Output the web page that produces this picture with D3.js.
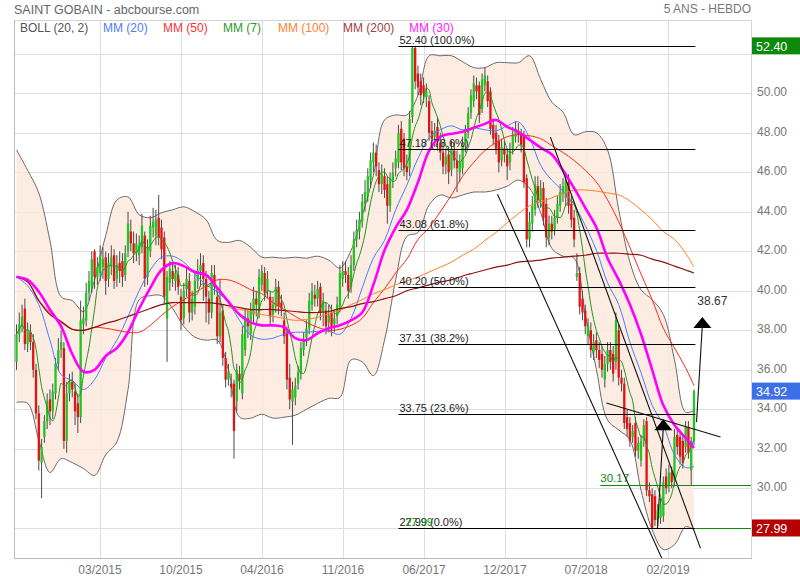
<!DOCTYPE html>
<html><head><meta charset="utf-8">
<script src="https://cdn.jsdelivr.net/npm/d3@7"></script>
<style>body{margin:0;background:#fff}svg{display:block;font-family:"Liberation Sans",Arial,sans-serif}</style>
</head><body><svg id="c" width="800" height="580"></svg>
<script>
// ---------- DATA ----------
const opens=[36.4,37.8,38.2,39.1,37.3,37.9,37.4,36.0,33.8,31.3,
32.6,33.4,34.5,33.9,34.8,36.3,37.0,37.1,32.4,34.8,
35.4,34.9,34.3,33.6,38.3,38.5,39.9,40.2,42.0,40.7,
40.9,41.2,41.7,40.6,41.3,41.8,40.6,41.4,41.5,40.8,
42.0,43.0,42.4,41.9,41.8,42.2,42.8,40.7,42.0,43.2,
42.8,43.7,43.2,42.7,38.6,40.4,41.0,40.5,40.8,39.7,
38.6,40.1,40.5,38.9,39.2,40.5,41.0,41.4,40.6,39.6,
38.9,40.8,39.7,37.7,39.0,36.6,35.5,35.3,35.3,34.4,
35.8,34.8,37.0,38.6,37.8,38.8,39.6,38.9,40.3,40.9,
40.0,39.7,38.8,39.2,40.2,39.4,38.5,37.9,35.6,34.4,
34.6,35.3,35.8,37.0,37.6,38.1,39.3,39.8,39.6,40.2,
38.9,39.0,38.4,38.9,38.3,38.7,39.2,40.6,41.0,40.8,
40.2,41.3,42.6,43.0,43.5,44.4,44.8,45.6,46.5,47.0,
46.1,45.4,45.8,45.4,44.3,45.6,46.2,46.5,48.2,47.7,
46.3,46.2,48.8,52.3,51.0,50.6,50.4,49.8,49.6,48.1,
47.8,48.3,47.5,47.0,46.4,46.9,46.1,47.1,46.6,46.0,
46.2,47.4,48.0,49.0,49.6,50.4,50.4,49.2,50.4,50.6,
50.1,48.4,48.0,47.6,46.6,47.2,46.9,46.5,47.2,47.8,
48.1,47.9,47.9,45.7,42.6,43.4,44.1,45.3,44.6,45.2,
44.4,42.7,43.4,43.1,43.7,44.3,44.9,44.7,45.5,44.4,
43.7,40.7,40.9,39.6,39.0,37.7,38.0,36.9,37.5,37.0,
36.8,35.5,36.3,37.0,36.8,36.4,38.0,35.6,35.3,33.6,
33.3,32.6,33.3,31.9,31.4,32.4,33.4,29.9,29.7,29.6,
28.4,28.5,28.6,30.6,30.1,30.8,30.4,32.7,32.6,32.4,
32.1,33.1,30.9,32.4];
const highs=[38.3,38.9,39.3,39.6,38.4,38.3,37.8,36.3,34.2,32.5,
33.7,34.8,35.0,35.3,36.6,37.6,38.0,37.4,35.4,35.8,
35.9,35.3,34.8,39.5,39.2,40.4,41.0,42.0,42.1,41.7,
42.3,42.2,42.0,41.9,42.3,42.1,41.8,42.0,41.9,42.3,
44.0,43.6,43.0,42.9,42.8,43.9,43.0,42.6,43.8,44.2,
44.1,44.85,43.6,43.0,41.0,41.5,41.4,41.3,41.2,40.1,
40.4,41.2,40.9,40.0,41.0,41.6,41.9,41.8,41.0,40.0,
41.3,41.3,40.0,40.6,39.3,36.9,36.3,35.8,35.5,36.3,
36.2,38.2,39.1,39.0,39.4,40.2,40.0,41.1,41.3,41.2,
41.0,40.0,39.7,40.6,40.5,39.8,38.9,38.2,36.3,35.4,
35.6,36.2,37.4,37.9,38.5,39.9,40.4,40.3,40.5,40.4,
39.9,39.4,39.3,39.3,39.0,39.7,41.3,41.5,41.5,41.2,
41.8,43.0,43.6,44.0,44.9,45.6,46.2,47.0,47.5,47.4,
46.5,46.4,46.2,45.8,46.0,46.5,47.1,48.4,48.6,48.0,
46.9,49.1,52.4,52.4,51.4,51.0,50.8,50.5,49.9,48.6,
48.5,48.8,48.0,47.5,47.2,47.3,47.6,47.6,47.1,46.9,
47.8,48.4,49.3,50.2,50.9,50.8,50.6,51.0,51.3,50.9,
50.3,48.7,48.4,47.9,47.7,47.6,47.2,47.5,48.3,48.6,
48.5,48.2,48.1,45.9,44.0,44.8,45.8,45.8,45.6,45.5,
44.7,43.8,43.8,44.1,44.8,45.4,45.7,46.0,45.9,44.8,
44.1,41.9,41.2,40.0,39.3,38.6,38.4,37.8,37.9,37.4,
37.2,36.7,37.4,37.4,37.2,38.9,38.3,36.0,35.6,34.0,
33.6,33.2,33.6,32.6,32.7,33.5,33.6,30.3,30.0,29.9,
29.2,29.5,30.6,31.0,31.2,31.1,33.0,33.1,32.9,32.7,
33.4,33.4,32.6,35.0];
const lows=[36.0,37.4,37.9,37.0,36.9,37.0,35.6,33.5,30.9,29.5,
32.3,33.0,33.2,33.5,34.5,36.0,36.6,32.0,31.8,34.4,
34.6,33.2,32.8,33.3,37.8,38.2,39.5,39.9,40.1,40.3,
40.5,40.6,39.8,40.2,40.8,40.1,40.2,40.4,40.2,40.5,
41.7,42.0,41.4,41.5,41.3,41.9,40.2,40.3,41.7,42.7,
42.3,42.3,41.6,39.3,36.4,40.0,40.2,40.0,39.8,38.0,
38.3,39.7,38.4,38.5,38.8,40.1,40.2,39.5,38.4,38.3,
38.6,39.8,37.3,37.4,36.2,35.1,35.2,34.6,31.5,33.9,
35.0,34.5,36.7,37.6,37.5,38.3,38.7,38.6,40.0,39.5,
39.6,38.3,38.4,38.9,38.8,38.7,37.3,35.0,34.0,32.2,
34.2,35.0,35.5,36.7,37.2,37.8,39.0,39.2,39.2,38.5,
38.2,37.8,37.9,37.7,37.9,38.3,38.9,40.2,40.4,39.6,
39.9,41.0,42.2,42.6,43.2,44.0,44.5,45.2,46.0,45.8,
45.0,44.9,44.7,43.4,44.0,45.2,45.8,46.2,46.1,45.8,
45.6,45.8,48.5,50.2,49.9,49.4,49.5,49.3,47.6,47.2,
47.3,47.1,46.6,45.9,45.9,45.4,45.8,46.2,45.0,45.5,
45.9,47.0,47.7,48.7,49.3,49.7,48.5,49.0,50.1,49.3,
47.9,47.4,46.9,46.0,46.3,46.5,45.6,46.1,46.9,47.5,
47.5,47.0,45.2,42.2,42.2,43.0,43.8,44.2,44.2,43.3,
42.2,42.3,42.6,42.8,43.4,44.0,44.5,44.3,43.9,43.2,
42.2,40.5,38.8,38.5,37.8,37.3,36.6,36.5,36.6,36.1,
35.6,35.1,35.9,36.0,35.4,36.0,35.2,34.9,33.0,32.6,
32.1,32.3,31.6,31.5,31.1,32.1,29.6,29.3,27.99,28.1,
28.1,28.2,28.3,29.7,29.8,30.0,30.1,31.7,31.2,31.0,
31.8,31.5,30.17,32.2];
const closes=[37.8,38.3,38.7,37.3,38.0,37.4,36.0,33.8,31.4,32.1,
33.4,34.4,33.9,34.9,36.3,37.0,37.4,32.4,34.8,35.4,
35.0,33.9,33.6,38.5,38.6,39.9,40.5,41.6,40.7,41.2,
41.8,41.6,40.5,41.4,41.7,40.5,41.3,41.0,40.7,41.9,
43.4,42.4,41.9,42.4,42.3,43.3,40.6,42.2,43.3,43.5,
43.6,42.7,42.1,39.7,40.7,41.1,40.6,40.9,40.2,38.5,
40.0,40.6,38.9,39.6,40.5,41.0,41.3,40.6,39.7,38.9,
40.9,40.2,37.7,38.9,36.6,35.5,35.9,35.1,32.9,36.0,
35.5,37.8,38.7,38.2,39.0,39.6,39.3,40.7,41.0,39.9,
40.6,38.7,39.3,40.2,39.2,39.1,37.7,35.5,34.5,35.0,
35.2,35.9,37.1,37.5,38.1,39.5,40.0,39.6,40.1,38.9,
39.5,38.2,38.8,38.2,38.6,39.3,40.9,41.0,40.8,40.0,
41.3,42.6,43.1,43.6,44.5,45.0,45.8,46.6,47.0,46.3,
45.4,45.9,45.1,44.3,45.7,46.0,46.7,48.0,46.5,46.2,
46.0,48.7,52.3,50.6,50.3,49.9,50.0,50.1,48.0,47.7,
48.1,47.6,47.0,46.3,46.8,46.0,47.2,46.6,46.2,46.5,
47.4,48.0,49.0,49.9,50.5,50.1,48.9,50.7,50.9,49.6,
48.2,47.7,47.2,46.5,47.3,46.9,46.3,47.1,47.9,48.2,
47.9,47.4,45.5,42.6,43.5,44.3,45.4,44.6,45.2,43.7,
42.7,43.4,43.0,43.7,44.4,45.0,45.3,45.6,44.3,43.6,
42.6,40.9,39.2,38.9,38.2,38.2,37.0,37.4,37.0,36.5,
36.0,36.3,37.0,36.4,35.8,38.5,35.6,35.3,33.3,33.0,
32.4,32.9,31.9,32.3,32.4,33.2,29.9,29.6,28.0,28.4,
28.9,29.2,30.3,30.0,30.8,30.3,32.6,32.1,31.6,31.3,
33.1,31.8,32.4,34.92];

// indicator readings, one every 4 weeks (candle index)
const lineIdx=[0,4,8,12,16,20,24,28,32,36,40,44,48,52,56,60,64,68,72,76,80,84,88,92,96,100,104,108,112,116,120,124,128,132,136,140,144,148,152,156,160,164,168,172,176,180,184,188,192,196,200,204,208,212,216,220,224,228,232,236,240,243];
const mm20=[40.7,40.25,39.3,37.5,35.75,35.45,35.0,35.5,36.6,37.5,
38.7,40.0,41.05,41.7,41.75,41.45,40.85,40.3,39.95,39.4,
38.5,37.75,37.55,37.6,37.8,37.9,37.9,37.95,37.95,37.8,
38.6,40.15,41.65,42.55,44.1,45.35,46.7,47.75,48.15,48.35,
48.15,48.25,48.15,48.1,48.35,48.55,47.75,46.35,45.6,45.05,
44.35,43.3,42.05,40.4,39.3,37.4,35.85,34.2,33.2,31.7,
31.05,31.1];
const mm30=[40.7,40.55,39.95,39.04,38.2,36.8,35.9,36.0,36.7,37.1,
37.9,39.1,40.15,41.05,41.4,41.25,40.95,40.8,40.15,39.45,
38.8,38.4,38.25,38.25,38.15,37.6,37.5,37.85,38.1,38.25,
38.5,38.9,40.3,42.05,43.2,44.1,45.5,47.1,47.8,47.95,
48.05,48.25,48.45,48.65,48.3,48.05,47.65,47.25,46.9,46.1,
45.2,44.2,43.2,41.65,40.55,39.3,37.8,36.0,34.2,33.2,
32.55,32.05];
const mm50=[40.7,40.45,39.5,38.9,38.4,38.05,38.0,38.15,38.1,38.0,
37.9,37.9,38.25,38.75,39.2,39.55,39.9,40.25,40.55,40.55,
40.35,40.05,39.85,39.4,39.05,38.7,38.4,38.15,38.0,38.05,
38.25,38.6,39.4,40.1,40.9,41.6,42.6,43.2,44.0,44.85,
45.8,46.5,47.1,47.5,47.8,47.9,47.85,47.7,47.35,47.0,
46.6,46.1,45.5,44.6,43.5,42.2,40.85,39.55,38.1,37.1,
36.1,35.2];
const mm100=[null,null,null,null,null,null,null,null,null,null,
null,null,null,null,null,null,null,null,null,39.15,
39.05,38.95,38.8,38.7,38.6,38.5,38.55,38.65,38.85,39.0,
39.3,39.55,39.85,40.05,40.3,40.5,40.7,40.95,41.2,41.45,
41.8,42.1,42.55,42.95,43.45,43.9,44.3,44.5,44.7,44.95,
45.1,45.1,45.05,44.95,44.85,44.55,44.1,43.6,43.0,42.6,
41.9,41.2];
const mm200=[40.7,40.45,39.5,38.8,38.45,38.05,38.0,38.15,38.35,38.5,
38.7,38.9,39.1,39.3,39.4,39.4,39.4,39.4,39.35,39.25,
39.15,39.05,39.05,39.05,39.0,38.95,38.9,38.9,38.95,39.1,
39.2,39.35,39.45,39.6,39.75,40.0,40.15,40.3,40.45,40.55,
40.75,40.9,41.05,41.2,41.3,41.45,41.5,41.55,41.65,41.7,
41.75,41.8,41.9,41.9,41.9,41.85,41.8,41.6,41.45,41.25,
41.05,40.9];
const bollUpper=[47.13,46.1,44.95,42.55,39.7,39.5,38.95,40.55,42.8,44.6,
44.75,43.85,43.7,43.95,44.1,44.25,44.0,43.6,42.55,42.45,
42.55,42.2,41.7,41.7,41.65,41.7,41.65,41.75,41.55,41.15,
42.05,43.8,45.85,48.65,48.9,48.9,49.9,51.9,51.9,51.9,
51.6,51.3,51.3,51.55,51.55,51.55,51.9,50.7,49.55,49.05,
47.9,48.05,48.0,47.13,44.1,41.45,40.05,39.55,38.8,36.5,
33.85,33.95];
const bollLower=[34.35,34.3,32.45,30.8,31.5,31.3,31.0,30.65,31.7,32.35,
35.0,39.55,39.75,39.75,39.1,38.2,37.65,37.5,37.5,36.0,
33.6,33.55,33.75,33.55,33.6,33.7,34.0,34.3,34.55,34.6,
36.5,36.4,35.7,37.5,40.55,42.75,42.95,44.35,44.85,44.7,
44.85,45.0,45.0,45.1,45.3,45.6,45.2,43.95,42.15,41.75,
41.65,38.8,36.0,33.45,32.95,32.45,29.9,27.9,26.9,27.15,
28.05,27.9];

const tickIdx=[29.95,59.0,88.05,117.1,146.2,175.2,204.3,233.7];
const tickLabels=["03/2015","10/2015","04/2016","11/2016","06/2017","12/2017","07/2018","02/2019"];
const yGrid=[28,30,32,34,36,38,40,42,44,46,48,50,52];
const yLabels=[30,32,34,36,38,40,42,44,46,48,50];

const fibLevels=[52.40,47.18,43.08,40.20,37.31,33.75,27.99];
const fibPct=["100.0%","78.6%","61.8%","50.0%","38.2%","23.6%","0.0%"];
const fibFrom=137, fibTo=243.5;
const greenLevels=[{v:30.17,from:209.4,label:"30.17"},{v:27.99,from:243.5,label:"27.99"}];

const trendLines=[[172.5,44.89,231.7,26.38],[191.5,47.78,245.3,26.97],[211.6,34.32,252.5,32.60]];
const arrows=[[229.9,27.99,232.0,33.5],[243.9,33.35,246.0,38.67]];
const target={v:38.67,label:"38.67"};

const lastValues=[{v:52.40,color:"#0b8a0b"},{v:34.92,color:"#3d6fe6"},{v:27.99,color:"#b50000"}];

const legend=[
 {t:"BOLL (20, 2)",c:"#555",x:20},
 {t:"MM (20)",c:"#4d7cff",x:103},
 {t:"MM (50)",c:"#ff3030",x:163},
 {t:"MM (7)",c:"#2a9a2a",x:223},
 {t:"MM (100)",c:"#ff8030",x:278},
 {t:"MM (200)",c:"#a04040",x:343},
 {t:"MM (30)",c:"#ff22ff",x:409}
];

// ---------- DRAW ----------
const L=14,R=751,T=20,B=558;
const svg=d3.select("#c");
const x=d3.scaleLinear().domain([0,243]).range([16.5,694]);
const y=d3.scaleLinear().domain([26.47,53.71]).range([B,T]);

svg.append("defs").append("clipPath").attr("id","clip")
  .append("rect").attr("x",L).attr("y",T).attr("width",R-L).attr("height",B-T);

// title
svg.append("text").attr("x",14).attr("y",14).attr("font-size",12.5).attr("fill","#666").text("SAINT GOBAIN - abcbourse.com");
svg.append("text").attr("x",R).attr("y",13).attr("text-anchor","end").attr("font-size",12).attr("fill","#777").text("5 ANS - HEBDO");

// grid
const g=svg.append("g");
g.selectAll("line.h").data(yGrid).join("line")
  .attr("x1",L).attr("x2",R).attr("y1",d=>Math.round(y(d))+0.5).attr("y2",d=>Math.round(y(d))+0.5)
  .attr("stroke","#dedede");
g.selectAll("line.v").data(tickIdx).join("line")
  .attr("x1",d=>Math.round(x(d))+0.5).attr("x2",d=>Math.round(x(d))+0.5).attr("y1",T).attr("y2",B)
  .attr("stroke","#dedede");
svg.append("rect").attr("x",L+0.5).attr("y",T+0.5).attr("width",R-L).attr("height",B-T)
  .attr("fill","none").attr("stroke","#d4d4d4");
svg.append("line").attr("x1",L+0.5).attr("x2",L+0.5).attr("y1",T).attr("y2",B+1).attr("stroke","#bbb");
svg.append("line").attr("x1",L).attr("x2",R+1).attr("y1",B+0.5).attr("y2",B+0.5).attr("stroke","#bbb");

// axis labels
svg.selectAll("text.yl").data(yLabels).join("text")
  .attr("x",757).attr("y",d=>y(d)+3).attr("font-size",12).attr("fill","#777").text(d=>d.toFixed(2));
svg.selectAll("text.xl").data(tickIdx).join("text")
  .attr("x",d=>x(d)).attr("y",574).attr("text-anchor","middle").attr("font-size",12).attr("fill","#777")
  .text((d,i)=>tickLabels[i]);

const plot=svg.append("g").attr("clip-path","url(#clip)");

// bollinger
const pts=lineIdx.map((d,i)=>({i:d,u:bollUpper[i],l:bollLower[i]}));
plot.append("path").datum(pts)
  .attr("d",d3.area().x(d=>x(d.i)).y0(d=>y(d.l)).y1(d=>y(d.u)).curve(d3.curveCatmullRom.alpha(0.5)))
  .attr("fill","#fde9dc").attr("opacity",0.85);
["u","l"].forEach(k=>{
  plot.append("path").datum(pts)
    .attr("d",d3.line().x(d=>x(d.i)).y(d=>y(d[k])).curve(d3.curveCatmullRom.alpha(0.5)))
    .attr("fill","none").attr("stroke","#6a6a6a").attr("stroke-width",1);
});

// candles
const cg=plot.append("g");
const idx=d3.range(closes.length);
cg.selectAll("line.w").data(idx).join("line")
  .attr("x1",i=>x(i)).attr("x2",i=>x(i))
  .attr("y1",i=>y(Math.max(highs[i],opens[i],closes[i])))
  .attr("y2",i=>y(Math.min(lows[i],opens[i],closes[i])))
  .attr("stroke","#4a4a4a").attr("stroke-width",1);
cg.selectAll("rect").data(idx).join("rect")
  .attr("x",i=>x(i)-1.15).attr("width",2.3)
  .attr("y",i=>y(Math.max(opens[i],closes[i])))
  .attr("height",i=>Math.max(1,Math.abs(y(opens[i])-y(closes[i]))))
  .attr("fill",i=>closes[i]>=opens[i]?"#22c422":"#e01414");

// moving averages
const mm7=closes.map((c,i)=>d3.mean(closes.slice(Math.max(0,i-6),i+1)));
const lineGen=d3.line().defined(d=>d.v!=null).x(d=>x(d.i)).y(d=>y(d.v)).curve(d3.curveCatmullRom.alpha(0.5));
function drawMA(vals,color,w){
  const data=lineIdx.map((d,i)=>({i:d,v:vals[i]}));
  plot.append("path").datum(data).attr("d",lineGen).attr("fill","none").attr("stroke",color).attr("stroke-width",w);
}
drawMA(mm20,"#4a7dff",1);
drawMA(mm50,"#ff2a1a",1);
plot.append("path").datum(mm7.map((v,i)=>({i:i,v:v})))
  .attr("d",d3.line().x(d=>x(d.i)).y(d=>y(d.v)).curve(d3.curveMonotoneX))
  .attr("fill","none").attr("stroke","#1f961f").attr("stroke-width",1);
drawMA(mm100,"#ff7f27",1);
drawMA(mm200,"#8b1212",1.2);
drawMA(mm30,"#ff00ff",2.6);

// fibonacci levels
const fg=svg.append("g");
fg.selectAll("line").data(fibLevels).join("line")
  .attr("x1",x(fibFrom)).attr("x2",x(fibTo))
  .attr("y1",d=>Math.round(y(d))+0.5).attr("y2",d=>Math.round(y(d))+0.5)
  .attr("stroke","#000").attr("stroke-width",1);
fg.selectAll("text").data(fibLevels).join("text")
  .attr("x",x(fibFrom)+1).attr("y",d=>Math.round(y(d))-2)
  .attr("font-size",11).attr("fill","#222")
  .text((d,i)=>d.toFixed(2)+" ("+fibPct[i]+")");

// green levels
greenLevels.forEach(l=>{
  svg.append("line").attr("x1",x(l.from)).attr("x2",R)
    .attr("y1",Math.round(y(l.v))+0.5).attr("y2",Math.round(y(l.v))+0.5)
    .attr("stroke","#118811").attr("stroke-width",1);
});
svg.append("text").attr("x",x(greenLevels[0].from)).attr("y",Math.round(y(greenLevels[0].v))-3)
  .attr("font-size",11.5).attr("fill","#118811").text(greenLevels[0].label);
svg.append("text").attr("x",x(fibFrom)+7).attr("y",Math.round(y(greenLevels[1].v))-2)
  .attr("font-size",11).attr("fill","#118811").text(greenLevels[1].label);

// trend lines
plot.selectAll("line.t").data(trendLines).join("line")
  .attr("x1",d=>x(d[0])).attr("y1",d=>y(d[1])).attr("x2",d=>x(d[2])).attr("y2",d=>y(d[3]))
  .attr("stroke","#111").attr("stroke-width",1.1);

// arrows
arrows.forEach(a=>{
  const x1=x(a[0]),y1=y(a[1]),x2=x(a[2]),y2=y(a[3]);
  svg.append("line").attr("x1",x1).attr("y1",y1).attr("x2",x2).attr("y2",y2+8).attr("stroke","#111").attr("stroke-width",1.1);
  svg.append("path").attr("d",`M${x2},${y2}L${x2-9},${y2+11}L${x2+9},${y2+11}Z`).attr("fill","#000");
});
svg.append("text").attr("x",x(arrows[1][2])-5).attr("y",y(target.v)-12)
  .attr("font-size",12).attr("fill","#333").text(target.label);

// legend
svg.selectAll("text.lg").data(legend).join("text")
  .attr("x",d=>d.x).attr("y",32).attr("font-size",12).attr("fill",d=>d.c).text(d=>d.t);

// last value boxes
lastValues.forEach(b=>{
  const yy=y(b.v);
  svg.append("rect").attr("x",752).attr("y",yy-8.5).attr("width",48).attr("height",17).attr("fill",b.color);
  svg.append("text").attr("x",756).attr("y",yy+5).attr("font-size",12.5).attr("fill","#fff").text(b.v.toFixed(2));
});
</script></body></html>
